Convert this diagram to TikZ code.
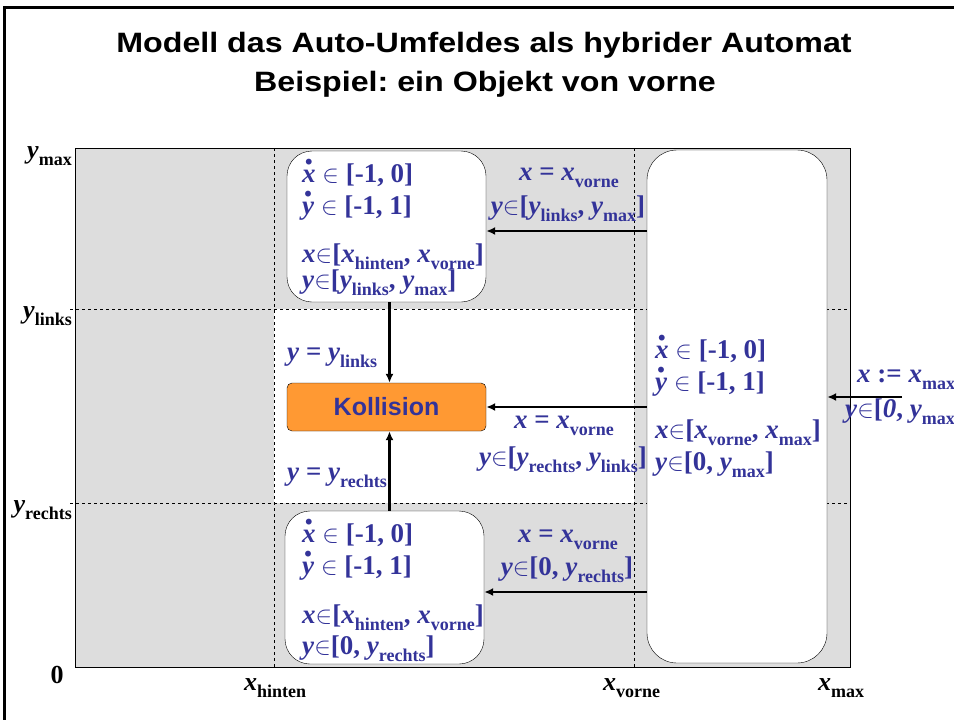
\documentclass[tikz,border=0pt]{standalone}
\usepackage{fontspec}
\setmainfont{Liberation Serif}
\newfontfamily\arialfont{Liberation Sans}
\usetikzlibrary{positioning,arrows.meta}

\definecolor{lila}{RGB}{51,51,153}
\definecolor{kollorange}{RGB}{255,153,51}
\definecolor{feldgrau}{RGB}{221,221,221}

% variable, index, derivative
\newcommand{\vv}[1]{\textbf{\textit{#1}}}
\newcommand{\ix}[1]{\raisebox{-0.27em}{\fontsize{18pt}{18pt}\selectfont\textbf{#1}}}
\newcommand{\dv}[1]{\ooalign{\vv{#1}\cr\hidewidth\raisebox{0.64em}{\fontsize{36pt}{36pt}\selectfont\textbf{.}}\hidewidth\cr}}
\newcommand{\el}{$\in$}

\begin{document}
\frenchspacing
\begin{tikzpicture}[x=1pt,y=-1pt,
    statebox/.style={draw, fill=white, rounded corners=25pt},
    lbl/.style={inner sep=0pt, text=lila, font=\fontsize{27pt}{29pt}\selectfont\bfseries},
    achse/.style={inner sep=0pt, font=\fontsize{26pt}{28pt}\selectfont\bfseries},
    titel/.style={inner sep=0pt, font=\arialfont\fontsize{28pt}{30pt}\selectfont\bfseries},
    trans/.style={line width=2.5pt, -{Latex[length=9pt,width=8pt]}}]
  \useasboundingbox (0,0) rectangle (954,720);
  \draw[line width=3pt] (4,740) rectangle (970,7);

  \node[titel, anchor=base] (titel1) at (484,52) {\scalebox{1.15}[1]{Modell das Auto-Umfeldes als hybrider Automat}};
  \node[titel, anchor=base] (titel2) at (485,91) {\scalebox{1.15}[1]{Beispiel: ein Objekt von vorne}};

  % Umfeld
  \fill[feldgrau] (75,148) rectangle (850,667);
  \fill[white] (274,309) rectangle (634,503);
  \draw[dashed] (274,148) -- (274,667);
  \draw[dashed] (634,148) -- (634,667);
  \draw[dashed] (70,309) -- (850,309);
  \draw[dashed] (70,503) -- (850,503);
  \draw (75,148) rectangle (850,667);

  % Achsen
  \node[achse, anchor=base east] (ymax) at (72,158) {\vv{y}\ix{max}};
  \node[achse, anchor=base east] (ylinks) at (72,318) {\vv{y}\ix{links}};
  \node[achse, anchor=base east] (yrechts) at (72,512) {\vv{y}\ix{rechts}};
  \node[achse, anchor=base] (null) at (57,683) {0};
  \node[achse, anchor=base west] (xhinten) at (244,690) {\vv{x}\ix{hinten}};
  \node[achse, anchor=base west] (xvorne) at (603,690) {\vv{x}\ix{vorne}};
  \node[achse, anchor=base west] (xmax) at (818,690) {\vv{x}\ix{max}};

  % Zustaende
  \node[statebox, minimum width=199pt, minimum height=151pt] (oben) at (386.5,226.5) {};
  \node[statebox, minimum width=199pt, minimum height=153pt] (unten) at (384.5,587.5) {};
  \node[statebox, rounded corners=30pt, minimum width=180pt, minimum height=513pt] (rechts) at (737,406.5) {};
  \node[draw, fill=kollorange, rounded corners=5pt, minimum width=199pt, minimum height=48pt,
    text=lila, font=\arialfont\fontsize{25pt}{26pt}\selectfont\bfseries] (kollision) at (386.5,407) {Kollision};

  \node[lbl, anchor=base west] (o1) at (302,182) {\dv{x} \el{} [-1, 0]};
  \node[lbl, anchor=base west] (o2) at (302,214) {\dv{y} \el{} [-1, 1]};
  \node[lbl, anchor=base west] (o3) at (302,262) {\vv{x}\el[\vv{x}\ix{hinten}, \vv{x}\ix{vorne}]};
  \node[lbl, anchor=base west] (o4) at (302,288) {\vv{y}\el[\vv{y}\ix{links}, \vv{y}\ix{max}]};

  \node[lbl, anchor=base west] (u1) at (302,542) {\dv{x} \el{} [-1, 0]};
  \node[lbl, anchor=base west] (u2) at (302,574) {\dv{y} \el{} [-1, 1]};
  \node[lbl, anchor=base west] (u3) at (302,623) {\vv{x}\el[\vv{x}\ix{hinten}, \vv{x}\ix{vorne}]};
  \node[lbl, anchor=base west] (u4) at (302,654) {\vv{y}\el[0, \vv{y}\ix{rechts}]};

  \node[lbl, anchor=base west] (r1) at (655,358) {\dv{x} \el{} [-1, 0]};
  \node[lbl, anchor=base west] (r2) at (655,390) {\dv{y} \el{} [-1, 1]};
  \node[lbl, anchor=base west] (r3) at (655,438) {\vv{x}\el[\vv{x}\ix{vorne}, \vv{x}\ix{max}]};
  \node[lbl, anchor=base west] (r4) at (655,470) {\vv{y}\el[0, \vv{y}\ix{max}]};

  % Uebergaenge
  \coordinate (ao) at ([yshift=-4.5pt]oben.east);
  \coordinate (au) at ([yshift=-4.5pt]unten.east);
  \coordinate (ein) at (902,397);
  \draw[trans] ([xshift=3pt]oben.south) -- ([xshift=3pt]kollision.north);
  \draw[trans] ([xshift=3pt]kollision.south |- unten.north) -- ([xshift=3pt]kollision.south);
  \draw[trans] (rechts.west |- ao) -- (ao);
  \draw[trans] (rechts.west |- au) -- (au);
  \draw[trans] (rechts.west |- kollision.east) -- (kollision.east);
  \draw[trans] (ein) -- (ein -| rechts.east);

  \node[lbl, anchor=base] (g1a) at (569,180) {\vv{x} = \vv{x}\ix{vorne}};
  \node[lbl, anchor=base] (g1b) at (568,214) {\vv{y}\el[\vv{y}\ix{links}, \vv{y}\ix{max}]};
  \node[lbl, anchor=base west] (g2) at (287,360) {\vv{y} = \vv{y}\ix{links}};
  \node[lbl, anchor=base west] (g3) at (287,480) {\vv{y} = \vv{y}\ix{rechts}};
  \node[lbl, anchor=base] (g4a) at (564,428) {\vv{x} = \vv{x}\ix{vorne}};
  \node[lbl, anchor=base] (g4b) at (563,465) {\vv{y}\el[\vv{y}\ix{rechts}, \vv{y}\ix{links}]};
  \node[lbl, anchor=base] (g5a) at (568,542) {\vv{x} = \vv{x}\ix{vorne}};
  \node[lbl, anchor=base] (g5b) at (567,575) {\vv{y}\el[0, \vv{y}\ix{rechts}]};
  \node[lbl, anchor=base west] (g6a) at (857,382) {\vv{x} := \vv{x}\ix{max}};
  \node[lbl, anchor=base west] (g6b) at (845,417) {\vv{y}\el[\vv{0}, \vv{y}\ix{max}]};
\end{tikzpicture}
\end{document}
